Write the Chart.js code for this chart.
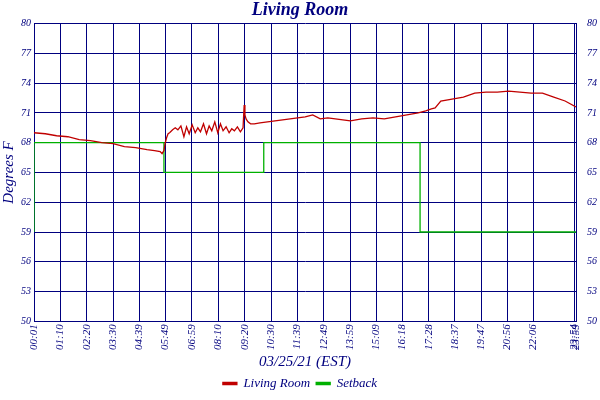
<!DOCTYPE html>
<html><head><meta charset="utf-8">
<script src="https://cdn.jsdelivr.net/npm/chart.js@4"></script>
<style>html,body{margin:0;padding:0;background:#fff}</style>
</head><body><canvas id="c" width="600" height="400"></canvas>
<script>
const tickMinutes=[1,70,140,210,279,349,419,490,560,630,699,769,839,909,978,1048,1117,1187,1256,1326,1434,1439];
const roomTimes=[0,30,60,90,120,150,180,210,240,270,300,320,335,340,345,348,352,356,360,368,375,382,390,398,405,412,420,428,435,442,450,458,465,472,480,488,495,502,510,518,525,532,540,548,555,558,560,563,568,575,585,600,620,660,700,720,740,760,780,800,820,840,870,900,930,960,990,1020,1040,1055,1065,1080,1110,1140,1170,1200,1230,1260,1290,1320,1350,1380,1410,1439];
const roomValues=[69.0,68.9,68.7,68.6,68.3,68.2,68.0,67.9,67.6,67.5,67.3,67.2,67.1,66.9,67.2,67.9,68.5,68.9,69.0,69.3,69.5,69.3,69.7,68.6,69.6,68.9,69.8,69.0,69.5,69.1,69.9,68.9,69.7,69.2,70.1,69.0,69.9,69.2,69.6,69.0,69.4,69.2,69.6,69.1,69.5,71.8,70.8,70.4,70.1,69.9,69.9,70.0,70.1,70.3,70.5,70.6,70.8,70.4,70.5,70.4,70.3,70.2,70.4,70.5,70.4,70.6,70.8,71.0,71.2,71.4,71.5,72.2,72.4,72.6,73.0,73.1,73.1,73.2,73.1,73.0,73.0,72.6,72.2,71.6];
const setbackTimes=[0,345,610,1025,1326,1439];
const setbackValues=[59,68,65,68,59,59];
const yTicks=[50,53,56,59,62,65,68,71,74,77,80];
const navy='#00007f';
const fmt=m=>{m=Math.round(m);return String(Math.floor(m/60)).padStart(2,'0')+':'+String(m%60).padStart(2,'0');};
const F='Liberation Serif';
new Chart(document.getElementById('c'),{
type:'line',
data:{datasets:[
{label:'Living Room',data:roomTimes.map((t,i)=>({x:t,y:roomValues[i]})),borderColor:'#c00000',backgroundColor:'#c00000',borderWidth:1.3,pointRadius:0,tension:0},
{label:'Setback',data:setbackTimes.map((t,i)=>({x:t,y:setbackValues[i]})),borderColor:'#00b000',backgroundColor:'#00b000',borderWidth:1.3,pointRadius:0,stepped:'after'}
]},
options:{responsive:false,animation:false,maintainAspectRatio:false,
layout:{padding:{left:0,right:0,top:0,bottom:0}},
plugins:{
title:{display:true,text:'Living Room',color:navy,font:{family:F,size:18,style:'italic',weight:'bold'},padding:{top:0,bottom:2}},
legend:{position:'bottom',labels:{color:navy,boxWidth:14,boxHeight:2,padding:6,font:{family:F,size:13,style:'italic'}}},
tooltip:{enabled:false}},
scales:{
x:{type:'linear',min:0,max:1439,
afterBuildTicks:a=>{a.ticks=tickMinutes.map(v=>({value:v}));},
grid:{color:navy,drawTicks:false},border:{color:navy},
ticks:{color:navy,autoSkip:false,maxRotation:90,minRotation:90,padding:3,font:{family:F,size:11,style:'italic'},callback:v=>fmt(v)},
title:{display:true,text:'03/25/21 (EST)',color:navy,font:{family:F,size:15,style:'italic'},padding:{top:0,bottom:0}}},
y:{min:50,max:80,afterBuildTicks:a=>{a.ticks=yTicks.map(v=>({value:v}));},
grid:{color:navy,drawTicks:false},border:{color:navy},
ticks:{color:navy,padding:3,font:{family:F,size:10,style:'italic'}},
title:{display:true,text:'Degrees F',color:navy,font:{family:F,size:15,style:'italic'},padding:0}},
y2:{position:'right',min:50,max:80,afterBuildTicks:a=>{a.ticks=yTicks.map(v=>({value:v}));},
grid:{display:false},border:{color:navy},
ticks:{color:navy,padding:3,font:{family:F,size:10,style:'italic'}}}
}}});
</script></body></html>
